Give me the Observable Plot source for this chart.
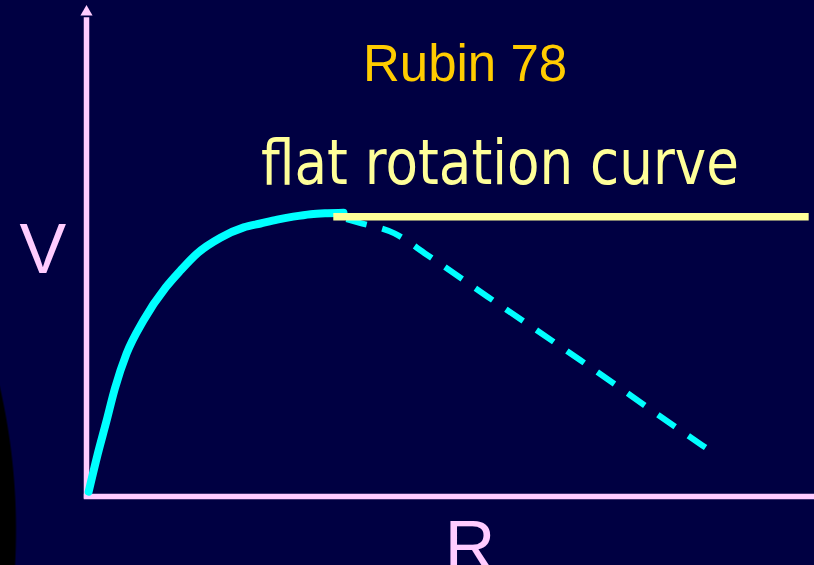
<!DOCTYPE html>
<html>
<head>
<meta charset="utf-8">
<script src="https://cdn.jsdelivr.net/npm/d3@7"></script>
<script src="https://cdn.jsdelivr.net/npm/@observablehq/plot@0.6"></script>
<style>
  html, body { margin: 0; padding: 0; overflow: hidden; }
  body {
    width: 814px; height: 565px;
    background: radial-gradient(circle 644px at -627px 530px, #000 99.7%, rgba(0,0,0,0) 100%), #000042;
  }
  #chart svg { display: block; }
</style>
</head>
<body>
<div id="chart"></div>
<script>
// Observed (solid) rotation curve: radius R and velocity V (arbitrary units)
const observedR = [0.03, 0.15, 0.27, 0.39, 0.55, 0.78, 1.09, 1.29, 1.52, 1.84, 2.16, 2.39, 2.62, 2.84, 3.08, 3.31, 3.53];
const observedV = [0.10, 0.84, 1.51, 2.20, 2.91, 3.58, 4.26, 4.60, 4.95, 5.27, 5.48, 5.56, 5.64, 5.70, 5.75, 5.77, 5.78];

// Expected Keplerian fall-off (dashed)
const keplerR = [3.57, 3.74, 4.23, 4.67, 5.51, 6.79, 8.46, 8.60];
const keplerV = [5.65, 5.58, 5.36, 4.93, 4.07, 2.77, 1.04, 0.90];

// Flat rotation curve (horizontal line)
const flatR = [3.39, 9.92];
const flatV = [5.70, 5.70];

// Axes extents
const axisXExtent = [-0.03, 10];
const axisYExtent = [-0.05, 9.75];
const arrowTipV = 9.87;

// Labels
const labelText = ["Rubin 78", "flat rotation curve", "V", "R"];
const labelR = [5.20, 5.68, -0.60, 5.27];
const labelV = [8.47, 6.37, 4.56, -1.49];

const pts = (xs, ys) => xs.map((x, i) => ({R: x, V: ys[i]}));
const observed = pts(observedR, observedV);
const kepler = pts(keplerR, keplerV);
const flat = pts(flatR, flatV);
const labels = labelText.map((t, i) => ({t, R: labelR[i], V: labelV[i]}));

const pink = "#ffccff";

const chart = Plot.plot({
  width: 814,
  height: 565,
  marginLeft: 86,
  marginRight: 0,
  marginTop: 5,
  marginBottom: 69,
  style: {background: "transparent", overflow: "visible"},
  x: {domain: [0, 10], axis: null},
  y: {domain: [0, 10], axis: null},
  marks: [
    Plot.ruleX([0], {y1: axisYExtent[0], y2: axisYExtent[1], stroke: pink, strokeWidth: 5.5}),
    Plot.ruleY([0], {x1: axisXExtent[0], x2: axisXExtent[1], stroke: pink, strokeWidth: 5.5}),
    Plot.dot([{R: 0, V: arrowTipV}], {x: "R", y: "V", symbol: "triangle", r: 4.5, fill: pink, stroke: "none"}),
    Plot.line(observed, {x: "R", y: "V", curve: "monotone-x", stroke: "#00ffff", strokeWidth: 8}),
    Plot.line(kepler, {x: "R", y: "V", curve: "monotone-x", stroke: "#00ffff", strokeWidth: 6, strokeDasharray: "21,16", strokeLinecap: "butt"}),
    Plot.line(flat, {x: "R", y: "V", stroke: "#ffff99", strokeWidth: 7.5, strokeLinecap: "butt"}),
    Plot.text([labels[0]], {x: "R", y: "V", text: "t", lineAnchor: "bottom", fill: "#ffcc00", fontSize: 51, fontFamily: "Liberation Sans, Arial, sans-serif"}),
    Plot.text([labels[1]], {x: "R", y: "V", text: "t", lineAnchor: "bottom", fill: "#ffff99", fontSize: 63, fontFamily: "DejaVu Sans, sans-serif"}),
    Plot.text([labels[2]], {x: "R", y: "V", text: "t", lineAnchor: "bottom", fill: pink, fontSize: 70, fontFamily: "Liberation Sans, Arial, sans-serif"}),
    Plot.text([labels[3]], {x: "R", y: "V", text: "t", lineAnchor: "bottom", fill: pink, fontSize: 70, fontFamily: "Liberation Sans, Arial, sans-serif"})
  ]
});

document.getElementById("chart").appendChild(chart);

// Condense the hand-lettered label to the reference width
d3.select(chart).selectAll("text").filter(function() { return this.textContent === "flat rotation curve"; })
  .attr("textLength", 478).attr("lengthAdjust", "spacingAndGlyphs");
</script>
</body>
</html>
